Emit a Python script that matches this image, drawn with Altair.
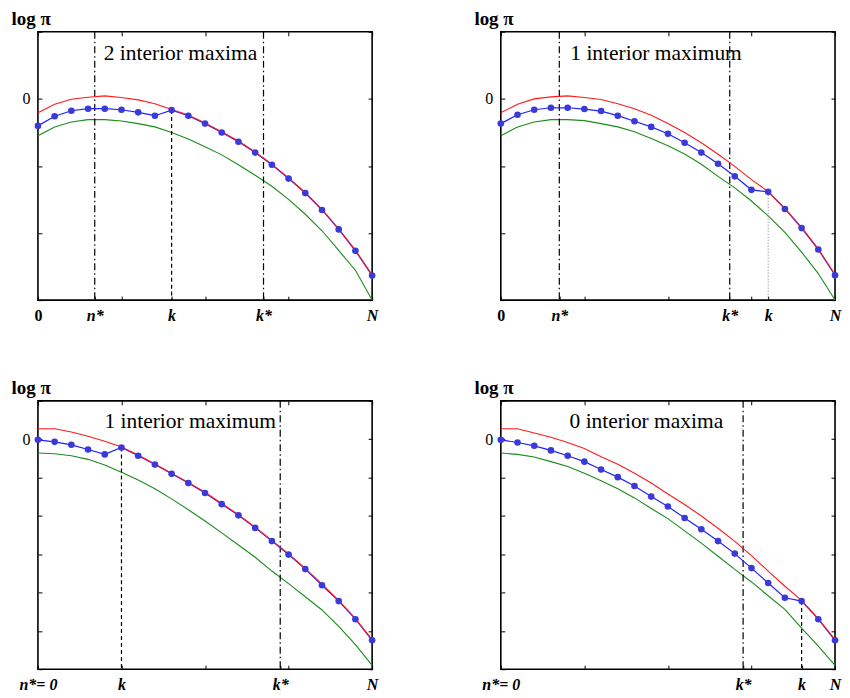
import altair as alt
import pandas as pd

N_IDX = list(range(21))

# ---- panel data (log pi values) ----
tl_blue = [-0.403, -0.260, -0.177, -0.147, -0.147, -0.162, -0.201, -0.251, -0.167, -0.251, -0.369,
           -0.501, -0.639, -0.801, -0.983, -1.189, -1.405, -1.656, -1.946, -2.265, -2.634]
tl_red = [-0.206, -0.079, -0.005, 0.025, 0.044, 0.020, -0.015, -0.074, -0.160, -0.241, -0.359,
          -0.491, -0.629, -0.791, -0.973, -1.179, -1.395, -1.646, -1.936, -2.255, -2.624]
tl_green = [-0.550, -0.418, -0.344, -0.310, -0.310, -0.329, -0.369, -0.418, -0.501, -0.600, -0.713,
            -0.835, -0.983, -1.140, -1.302, -1.499, -1.720, -1.966, -2.260, -2.555, -2.998]

tr_blue = [-0.369, -0.236, -0.162, -0.133, -0.133, -0.152, -0.182, -0.251, -0.334, -0.418, -0.521,
           -0.654, -0.801, -0.968, -1.155, -1.356, -1.386, -1.641, -1.926, -2.246, -2.629]
tr_red = [-0.206, -0.079, 0.000, 0.029, 0.044, 0.020, -0.010, -0.074, -0.147, -0.246, -0.369,
          -0.501, -0.654, -0.826, -1.007, -1.204, -1.381, -1.631, -1.916, -2.236, -2.619]
tr_green = [-0.550, -0.418, -0.344, -0.310, -0.310, -0.324, -0.369, -0.418, -0.491, -0.590, -0.698,
            -0.821, -0.975, -1.155, -1.327, -1.523, -1.744, -1.990, -2.285, -2.604, -2.998]

bl_blue = [-0.017, -0.069, -0.146, -0.267, -0.396, -0.215, -0.430, -0.662, -0.903, -1.144, -1.402,
           -1.694, -1.986, -2.313, -2.657, -3.010, -3.388, -3.809, -4.222, -4.695, -5.245]
bl_red = [0.275, 0.275, 0.189, 0.077, -0.052, -0.205, -0.413, -0.645, -0.886, -1.126, -1.384,
          -1.677, -1.969, -2.296, -2.640, -2.992, -3.371, -3.783, -4.205, -4.678, -5.228]
bl_green = [-0.361, -0.378, -0.430, -0.525, -0.671, -0.860, -1.066, -1.290, -1.556, -1.840, -2.132,
            -2.442, -2.760, -3.078, -3.439, -3.766, -4.110, -4.454, -4.884, -5.357, -5.899]

br_blue = [-0.017, -0.086, -0.172, -0.292, -0.430, -0.585, -0.791, -0.989, -1.221, -1.496, -1.754,
           -2.055, -2.347, -2.657, -2.984, -3.362, -3.749, -4.136, -4.222, -4.695, -5.245]
br_red = [0.275, 0.275, 0.163, 0.052, -0.086, -0.241, -0.456, -0.653, -0.886, -1.144, -1.427,
          -1.703, -2.003, -2.322, -2.666, -3.035, -3.439, -3.835, -4.205, -4.678, -5.228]
br_green = [-0.361, -0.396, -0.464, -0.585, -0.714, -0.886, -1.083, -1.290, -1.531, -1.806, -2.072,
            -2.390, -2.709, -3.052, -3.396, -3.723, -4.084, -4.437, -4.927, -5.400, -5.899]

# marker positions: n*, k, k*
tl_marks = {"nstar": 3.4, "k": 8, "kstar": 13.5}
tr_marks = {"nstar": 3.5, "k": 16, "kstar": 13.7}
bl_marks = {"nstar": 0, "k": 5, "kstar": 14.5}
br_marks = {"nstar": 0, "k": 18, "kstar": 14.5}

notes = ["2 interior maxima", "1 interior maximum", "1 interior maximum", "0 interior maxima"]
note_x = [8.53, 9.29, 9.11, 8.71]
note_y = [0.67, 0.67, 0.44, 0.44]

SERIF = "Liberation Serif"
W, H = 335, 269
RED, GREEN, BLUE, PT = "#ff1a1a", "#1a8c1a", "#2222ff", "#3a3ad8"


def panel(blue, red, green, ymin, marks, k_style, note, nx, ny):
    df = pd.DataFrame({"n": N_IDX, "blue": blue, "red": red, "green": green})
    xs = alt.Scale(domain=[0, 20], nice=False, zero=False)
    ys = alt.Scale(domain=[ymin, 1], nice=False, zero=False)
    nstar, k, kstar = marks["nstar"], marks["k"], marks["kstar"]

    labels = {5: "", 10: "", 15: "", 20: "N", k: "k", kstar: "k*"}
    if nstar > 0:
        labels[0] = "0"
        labels[nstar] = "n*"
        upright_test = "datum.value == 0"
    else:
        labels[0] = "n*= 0"
        upright_test = "false"
    expr = "''"
    for v, t in labels.items():
        expr = f"datum.value == {v} ? '{t}' : ({expr})"

    xaxis = alt.Axis(orient="bottom", values=sorted(labels.keys()), labelExpr=expr,
                     domain=False, grid=False, tickSize=4, offset=-4, tickColor="black",
                     labelFont=SERIF, labelFontSize=16, labelFontWeight="bold",
                     labelFontStyle={"condition": {"test": upright_test, "value": "normal"}, "value": "italic"},
                     labelColor="black", labelPadding=7, labelFlush=False, labelOverlap=False, title=None)
    yvals = list(range(ymin, 2))
    yaxis = alt.Axis(orient="left", values=yvals, labelExpr="datum.value == 0 ? '0' : ''",
                     domain=False, grid=False, tickSize=4, offset=-4, tickColor="black",
                     labelFont=SERIF, labelFontSize=16, labelColor="black", labelPadding=8,
                     title="log π", titleAngle=0, titleAlign="left", titleBaseline="alphabetic",
                     titleX=-31, titleY=-7, titleFont=SERIF, titleFontSize=19,
                     titleFontWeight="bold", titleColor="black")
    xtop = alt.Axis(orient="top", values=[0, 5, 10, 15, 20], labels=False, domain=False, grid=False,
                    tickSize=4, offset=-4, tickColor="black", title=None)
    yright = alt.Axis(orient="right", values=yvals, labels=False, domain=False, grid=False,
                      tickSize=4, offset=-4, tickColor="black", title=None)

    base = alt.Chart(df)
    green_l = base.mark_line(color=GREEN, strokeWidth=1.1).encode(
        x=alt.X("n:Q", scale=xs, axis=xaxis), y=alt.Y("green:Q", scale=ys, axis=yaxis))
    frame_axes = base.mark_point(opacity=0).encode(
        x=alt.X("n:Q", scale=xs, axis=xtop), y=alt.Y("green:Q", scale=ys, axis=yright))
    blue_l = base.mark_line(color=BLUE, strokeWidth=1.2).encode(
        x=alt.X("n:Q", axis=None), y=alt.Y("blue:Q", axis=None))
    red_l = base.mark_line(color=RED, strokeWidth=1.1).encode(
        x=alt.X("n:Q", axis=None), y=alt.Y("red:Q", axis=None))
    pts = base.mark_circle(color=PT, opacity=1, size=44).encode(
        x=alt.X("n:Q", axis=None), y=alt.Y("blue:Q", axis=None))

    txt = alt.Chart(pd.DataFrame({"x": [nx], "y": [ny], "t": [note]})).mark_text(
        font=SERIF, fontSize=21.5, align="center", baseline="middle", color="black").encode(
        x=alt.X("x:Q", axis=None), y=alt.Y("y:Q", axis=None), text="t:N")

    vl = [v for v in [nstar, kstar] if v > 0]
    dashdot = alt.Chart(pd.DataFrame({"x": vl})).mark_rule(
        color="black", strokeWidth=1.2, strokeDash=[7, 3, 1.5, 3]).encode(x=alt.X("x:Q", axis=None))

    if k_style == "dotted":
        kmark = alt.Chart().mark_rule(color="#777777", strokeWidth=1, strokeDash=[1, 2])
    else:
        kmark = alt.Chart().mark_rule(color="black", strokeWidth=1.2, strokeDash=[4, 3])
    krule = kmark.properties(data=pd.DataFrame({"x": [k], "y": [blue[k]], "y2": [ymin]})).encode(
        x=alt.X("x:Q", axis=None), y=alt.Y("y:Q", axis=None), y2="y2:Q")

    return alt.layer(green_l, frame_axes, txt, dashdot, krule, blue_l, red_l, pts).resolve_axis(
        x="independent", y="independent").properties(
        width=W, height=H, view=alt.ViewBackground(stroke="black", strokeWidth=1.6))


tl = panel(tl_blue, tl_red, tl_green, -3, tl_marks, "dashed", notes[0], note_x[0], note_y[0])
tr = panel(tr_blue, tr_red, tr_green, -3, tr_marks, "dotted", notes[1], note_x[1], note_y[1])
bl = panel(bl_blue, bl_red, bl_green, -6, bl_marks, "dashed", notes[2], note_x[2], note_y[2])
br = panel(br_blue, br_red, br_green, -6, br_marks, "dashed", notes[3], note_x[3], note_y[3])

chart = alt.concat(tl, tr, bl, br, columns=2, spacing={"row": 101, "column": 129},
                   bounds="flush").properties(
    padding={"left": 2, "top": 0, "right": 0, "bottom": 0}
).configure_view(stroke="black", strokeWidth=1.6).configure(background="white")

chart.save("out.html", embed_options={"renderer": "svg", "actions": False})
